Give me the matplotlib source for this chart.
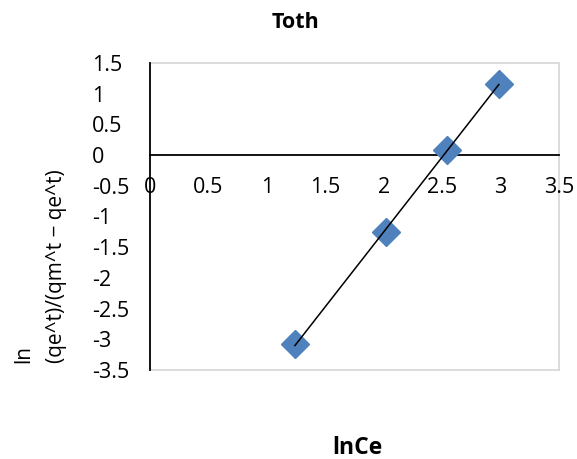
import matplotlib
matplotlib.use("Agg")
import matplotlib.pyplot as plt
import numpy as np

plt.rcParams['font.family'] = ['Open Sans', 'DejaVu Sans']

# Toth isotherm, linearised form
ln_ce = [1.24, 2.02, 2.54, 2.985]
ln_ratio = [-3.08, -1.25, 0.08, 1.16]

x_ticks = [0, 0.5, 1, 1.5, 2, 2.5, 3, 3.5]
y_ticks = [1.5, 1, 0.5, 0, -0.5, -1, -1.5, -2, -2.5, -3, -3.5]

W, H = 577, 459
fig = plt.figure(figsize=(W / 100, H / 100), dpi=100)
ax = fig.add_axes([150 / W, 89 / H, 409 / W, 307 / H])

ax.plot(ln_ce, ln_ratio, linestyle='none', marker='D', markersize=14,
        color='#4F81BD', zorder=3)

# linear trendline over the data range
slope, icpt = np.polyfit(ln_ce, ln_ratio, 1)
xs = np.array([min(ln_ce), max(ln_ce)])
ax.plot(xs, slope * xs + icpt, color='black', linewidth=1.1, zorder=4)

ax.set_xlim(0, 3.5)
ax.set_ylim(-3.5, 1.5)
ax.set_xticks(x_ticks)
ax.set_xticklabels([f'{v:g}' for v in x_ticks])
ax.set_yticks(y_ticks)
ax.set_yticklabels([f'{v:g}' for v in y_ticks])

grey = '#D9D9D9'
ax.spines['bottom'].set_position(('data', 0))
ax.spines['bottom'].set_color('black')
ax.spines['bottom'].set_linewidth(1.3)
ax.spines['left'].set_color('black')
ax.spines['left'].set_linewidth(1.3)
for s in ('top', 'right'):
    ax.spines[s].set_color(grey)
    ax.spines[s].set_linewidth(1.3)
    ax.spines[s].set_zorder(0)
ax.axhline(-3.5, color=grey, linewidth=1.3, clip_on=False, zorder=0)

ax.tick_params(axis='both', length=0, labelsize=15.5)
ax.tick_params(axis='x', pad=16)
ax.tick_params(axis='y', pad=42)
for lbl in ax.get_yticklabels():
    lbl.set_horizontalalignment('left')

fig.text(296 / W, 1 - 22 / H, 'Toth', ha='center', va='center',
         fontsize=15.5, fontweight='bold')
fig.text(357 / W, 1 - 448 / H, 'lnCe', ha='center', va='center',
         fontsize=16.5, fontweight='bold')
fig.text(40 / W, 1 - 363 / H, 'ln\n(qe^t)/(qm^t \u2212 qe^t)', rotation=90,
         ha='center', va='bottom', multialignment='left',
         fontsize=15, linespacing=1.7)

fig.savefig('out.png', dpi=100)
